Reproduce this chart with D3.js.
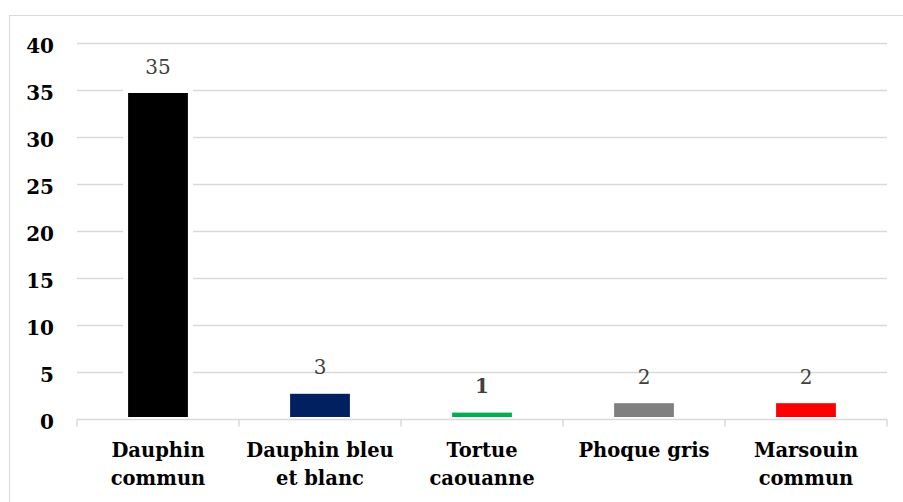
<!DOCTYPE html>
<html>
<head>
<meta charset="utf-8">
<script src="https://cdn.jsdelivr.net/npm/d3@7"></script>
<style>
  body { margin: 0; background: #fff; }
  svg { display: block; font-family: "DejaVu Serif", serif; }
</style>
</head>
<body>
<div id="app"></div>
<script>
// data
const categories = ["Dauphin commun", "Dauphin bleu et blanc", "Tortue caouanne", "Phoque gris", "Marsouin commun"];
const categoryLines = [["Dauphin", "commun"], ["Dauphin bleu", "et blanc"], ["Tortue", "caouanne"], ["Phoque gris"], ["Marsouin", "commun"]];
const values = [35, 3, 1, 2, 2];
const barColors = ["#000000", "#002060", "#00b050", "#808080", "#ff0000"];
const yTicks = [0, 5, 10, 15, 20, 25, 30, 35, 40];

const w = 903, h = 502;
const plotLeft = 77, plotRight = 887, plotTop = 43.5, plotBottom = 419.5;

const svg = d3.select('#app')
  .append('svg')
  .attr('width', w)
  .attr('height', h);

// chart border
svg.append('rect')
  .attr('x', 9.5)
  .attr('y', 15.5)
  .attr('width', w)
  .attr('height', h)
  .attr('fill', '#fff')
  .attr('stroke', '#d9d9d9');

const xScale = d3.scaleBand()
  .domain(categories)
  .range([plotLeft, plotRight])
  .paddingInner(0.6)
  .paddingOuter(0.3);

const yScale = d3.scaleLinear()
  .domain([0, 40])
  .range([plotBottom, plotTop]);

/////////GRID + Y LABELS/////////
svg.selectAll('.grid')
  .data(yTicks.filter(d => d > 0))
  .enter()
  .append('line')
  .attr('class', 'grid')
  .attr('x1', plotLeft)
  .attr('x2', plotRight)
  .attr('y1', d => yScale(d))
  .attr('y2', d => yScale(d))
  .attr('stroke', '#d9d9d9')
  .attr('stroke-width', 1.3);

svg.selectAll('.ylab')
  .data(yTicks)
  .enter()
  .append('text')
  .attr('class', 'ylab')
  .attr('x', 54)
  .attr('y', d => yScale(d) + 9)
  .attr('text-anchor', 'end')
  .style('font-size', '20px')
  .style('font-weight', 'bold')
  .attr('fill', '#000')
  .text(d => d);

/////////BARS/////////
svg.selectAll('.bar')
  .data(values)
  .enter()
  .append('rect')
  .attr('class', 'bar')
  .attr('x', (d, i) => xScale(categories[i]))
  .attr('width', xScale.bandwidth())
  .attr('y', d => yScale(d))
  .attr('height', d => yScale(0) - yScale(d))
  .attr('fill', (d, i) => barColors[i])
  .attr('stroke', '#fff')
  .attr('stroke-width', 5);

// value labels (the Tortue one is bold in the original)
svg.selectAll('.vlab')
  .data(values)
  .enter()
  .append('text')
  .attr('class', 'vlab')
  .attr('x', (d, i) => xScale(categories[i]) + xScale.bandwidth() / 2)
  .attr('y', d => yScale(d) - 17)
  .attr('text-anchor', 'middle')
  .style('font-size', '20px')
  .style('font-weight', (d, i) => i === 2 ? 'bold' : 'normal')
  .attr('fill', '#404040')
  .text(d => d3.format('d')(d));

/////////X AXIS/////////
svg.append('line')
  .attr('x1', plotLeft)
  .attr('x2', plotRight)
  .attr('y1', plotBottom)
  .attr('y2', plotBottom)
  .attr('stroke', '#d9d9d9')
  .attr('stroke-width', 1.5);

const step = xScale.step();
svg.selectAll('.tick')
  .data(d3.range(categories.length + 1))
  .enter()
  .append('line')
  .attr('class', 'tick')
  .attr('x1', i => plotLeft + i * step)
  .attr('x2', i => plotLeft + i * step)
  .attr('y1', plotBottom)
  .attr('y2', plotBottom + 7)
  .attr('stroke', '#d9d9d9')
  .attr('stroke-width', 1.5);

const xl = svg.selectAll('.xlab')
  .data(categoryLines)
  .enter()
  .append('text')
  .attr('class', 'xlab')
  .attr('text-anchor', 'middle')
  .style('font-size', '19.5px')
  .style('font-weight', 'bold')
  .attr('fill', '#000');

xl.selectAll('tspan')
  .data((d, i) => d.map(line => ({ line, i })))
  .enter()
  .append('tspan')
  .attr('x', d => xScale(categories[d.i]) + xScale.bandwidth() / 2)
  .attr('y', (d, j) => 457 + j * 27.5)
  .text(d => d.line);
</script>
</body>
</html>
